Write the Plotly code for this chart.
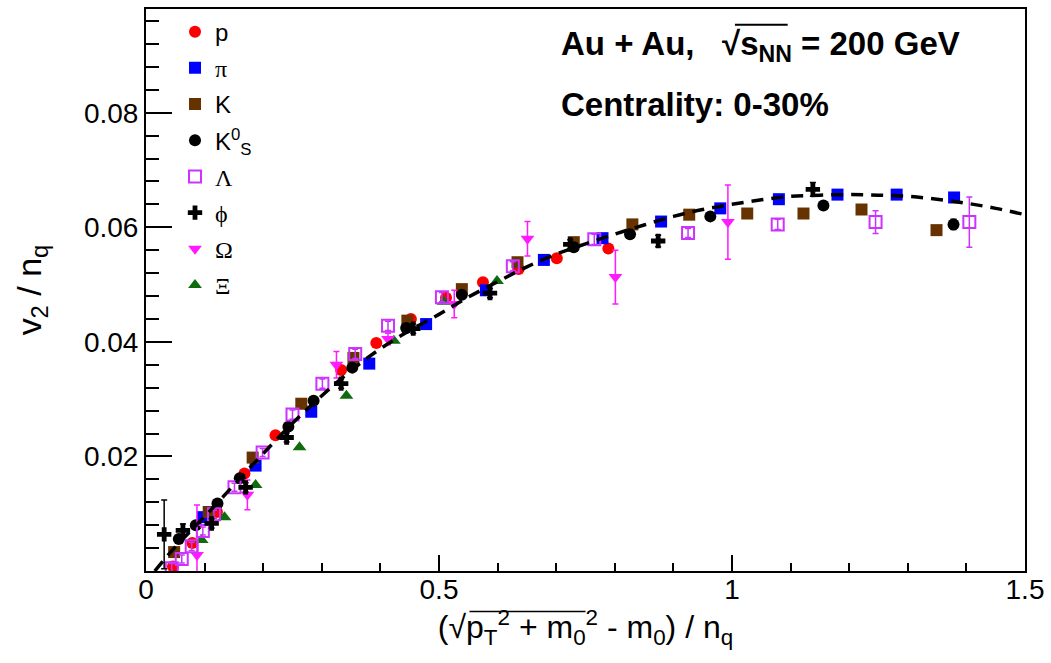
import plotly.graph_objects as go

# ---- proton ----
p_x = [0.046, 0.079, 0.121, 0.168, 0.221, 0.333, 0.393, 0.452, 0.512, 0.575, 0.636, 0.701, 0.789]
p_y = [0.0008, 0.0049, 0.0103, 0.0170, 0.0237, 0.0351, 0.0398, 0.0440, 0.0477, 0.0504, 0.0527, 0.0546, 0.0563]

# ---- pion ----
pi_x = [0.097, 0.187, 0.282, 0.381, 0.478, 0.580, 0.679, 0.779, 0.879, 0.980, 1.080, 1.180, 1.281, 1.379]
pi_y = [0.0094, 0.0184, 0.0278, 0.0362, 0.0431, 0.0490, 0.0543, 0.0581, 0.0610, 0.0633, 0.0649, 0.0657, 0.0657, 0.0652]

# ---- charged kaon ----
k_x = [0.048, 0.107, 0.182, 0.265, 0.354, 0.446, 0.539, 0.634, 0.730, 0.830, 0.927, 1.026, 1.122, 1.221, 1.349]
k_y = [0.0033, 0.0103, 0.0198, 0.0292, 0.0372, 0.0437, 0.0492, 0.0539, 0.0574, 0.0605, 0.0622, 0.0624, 0.0624, 0.0631, 0.0595]

# ---- K0s ----
k0_x = [0.056, 0.085, 0.122, 0.160, 0.243, 0.286, 0.352, 0.444, 0.539, 0.730, 0.826, 0.963, 1.156, 1.378]
k0_y = [0.0056, 0.0080, 0.0118, 0.0162, 0.0252, 0.0297, 0.0355, 0.0424, 0.0482, 0.0565, 0.0588, 0.0619, 0.0638, 0.0605]
k0_e = [0.0003, 0.0003, 0.0003, 0.0003, 0.0003, 0.0003, 0.0003, 0.0003, 0.0003, 0.0004, 0.0004, 0.0004, 0.0005, 0.0009]

# ---- Lambda ----
lam_x = [0.044, 0.061, 0.078, 0.097, 0.116, 0.151, 0.199, 0.250, 0.301, 0.357, 0.413, 0.505, 0.626, 0.765, 0.925, 1.078, 1.245, 1.405]
lam_y = [0.0005, 0.0021, 0.0043, 0.0070, 0.0099, 0.0146, 0.0207, 0.0273, 0.0327, 0.0379, 0.0428, 0.0478, 0.0532, 0.0579, 0.0590, 0.0605, 0.0609, 0.0609]
lam_e = [0.0008, 0.0007, 0.0007, 0.0007, 0.0007, 0.0007, 0.0007, 0.0008, 0.0008, 0.0008, 0.0008, 0.0008, 0.0008, 0.0009, 0.0008, 0.0009, 0.0020, 0.0044]

# ---- phi ----
phi_x = [0.031, 0.063, 0.112, 0.170, 0.240, 0.333, 0.456, 0.587, 0.724, 0.874, 1.138]
phi_y = [0.0064, 0.0071, 0.0083, 0.0146, 0.0233, 0.0327, 0.0423, 0.0485, 0.0570, 0.0576, 0.0666]
phi_e = [0.0060, 0.0011, 0.0008, 0.0008, 0.0008, 0.0008, 0.0008, 0.0008, 0.0008, 0.0010, 0.0012]

# ---- Omega ----
om_x = [0.087, 0.173, 0.325, 0.413, 0.526, 0.651, 0.801, 0.993]
om_y = [0.0028, 0.0133, 0.0360, 0.0405, 0.0466, 0.0580, 0.0513, 0.0609]
om_e = [0.0087, 0.0026, 0.0023, 0.0010, 0.0024, 0.0030, 0.0047, 0.0065]

# ---- Xi ----
xi_x = [0.095, 0.134, 0.187, 0.262, 0.342, 0.423, 0.508, 0.599]
xi_y = [0.0054, 0.0094, 0.0150, 0.0216, 0.0306, 0.0402, 0.0470, 0.0506]

# ---- NCQ scaling fit curve ----
fit_x = [0.015, 0.05, 0.10, 0.15, 0.20, 0.25, 0.30, 0.35, 0.40, 0.45, 0.50, 0.55, 0.60, 0.65, 0.70,
         0.75, 0.80, 0.85, 0.90, 0.95, 1.00, 1.05, 1.10, 1.15, 1.20, 1.25, 1.30, 1.35, 1.40, 1.45, 1.50]
fit_y = [0.0, 0.0042, 0.0095, 0.0150, 0.0205, 0.0258, 0.0306, 0.0350, 0.0388, 0.0420, 0.0448, 0.0478,
         0.0505, 0.0531, 0.0553, 0.0571, 0.0588, 0.0604, 0.0619, 0.0631, 0.0640, 0.0648, 0.0654, 0.0656,
         0.0657, 0.0656, 0.0654, 0.0649, 0.0642, 0.0633, 0.0622]

y_ticks = [0.0, 0.02, 0.04, 0.06, 0.08]
y_ticktext = ["", "0.02", "0.04", "0.06", "0.08"]

SANS = "Liberation Sans, Arial, sans-serif"
SERIF = "Liberation Serif, Times New Roman, serif"

def greek(s):
    return f"<span style='font-family:{SERIF}'>{s}</span>"

BROWN = "#663300"
GREEN = "#0e6b0e"
LAM_C = "#cc33ff"
OM_C = "#ff1aff"

fig = go.Figure()

def err(arr, color):
    return dict(type="data", array=arr, visible=True, color=color, thickness=1.5, width=3)

# draw order: filled markers first, open squares and crosses on top, fit line last
fig.add_trace(go.Scatter(x=p_x, y=p_y, mode="markers", name="p", legendrank=1, legendgroup="a",
                         marker=dict(symbol="circle", size=12, color="#ff0000")))
fig.add_trace(go.Scatter(x=pi_x, y=pi_y, mode="markers", name=greek("π"), legendrank=2, legendgroup="b",
                         marker=dict(symbol="square", size=12, color="#0000ff")))
fig.add_trace(go.Scatter(x=k_x, y=k_y, mode="markers", name="K", legendrank=3, legendgroup="c",
                         marker=dict(symbol="square", size=12, color=BROWN)))
fig.add_trace(go.Scatter(x=k0_x, y=k0_y, mode="markers", name="K<sup>0</sup><sub>S</sub>", legendrank=4,
                         legendgroup="d", error_y=err(k0_e, "black"),
                         marker=dict(symbol="circle", size=12, color="black")))
fig.add_trace(go.Scatter(x=xi_x, y=xi_y, mode="markers", name=greek("Ξ"), legendrank=8, legendgroup="h",
                         marker=dict(symbol="triangle-up", size=12, color=GREEN)))
fig.add_trace(go.Scatter(x=om_x, y=om_y, mode="markers", name=greek("Ω"), legendrank=7, legendgroup="g",
                         error_y=err(om_e, OM_C),
                         marker=dict(symbol="triangle-down", size=12, color=OM_C)))
fig.add_trace(go.Scatter(x=lam_x, y=lam_y, mode="markers", name=greek("Λ"), legendrank=5, legendgroup="e",
                         error_y=err(lam_e, LAM_C),
                         marker=dict(symbol="square-open", size=12, color=LAM_C, line=dict(width=2, color=LAM_C))))
fig.add_trace(go.Scatter(x=phi_x, y=phi_y, mode="markers", name=greek("ϕ"), legendrank=6, legendgroup="f",
                         error_y=err(phi_e, "black"),
                         marker=dict(symbol="cross", size=12, color="black")))
fig.add_trace(go.Scatter(x=fit_x, y=fit_y, mode="lines", showlegend=False, line_shape="spline",
                         line=dict(color="black", width=3.5, dash="12px,8px")))

# vinculum lines over the square-root arguments
def overline(x0, x1, y, w=1.6):
    return dict(type="line", xref="paper", yref="paper", x0=x0, x1=x1, y0=y, y1=y,
                line=dict(color="black", width=w))

fig.update_layout(
    width=1051, height=663,
    margin=dict(l=146, r=23, t=7, b=92),
    paper_bgcolor="white", plot_bgcolor="white",
    font=dict(family=SANS, color="black"),
    legend=dict(x=0.033, y=0.999, xanchor="left", yanchor="top", bgcolor="rgba(0,0,0,0)",
                font=dict(size=24, family=SANS), tracegroupgap=2, traceorder="grouped",
                itemsizing="trace"),
    xaxis=dict(range=[0, 1.5], showgrid=False, zeroline=False, showline=True, linecolor="black",
               linewidth=2, mirror=True, ticks="inside", ticklen=16, tickwidth=1.5, tickcolor="black",
               tick0=0, dtick=0.5, tickfont=dict(size=28, family=SANS), ticklabelstandoff=-8,
               minor=dict(ticks="inside", ticklen=8, tickwidth=1.5, tickcolor="black", dtick=0.1, showgrid=False),
               title=dict(text="(√p<sub>T</sub><sup>2</sup> + m<sub>0</sub><sup>2</sup> - m<sub>0</sub>) / n<sub>q</sub>",
                          font=dict(size=32, family=SANS), standoff=10)),
    yaxis=dict(range=[0, 0.0981], showgrid=False, zeroline=False, showline=True, linecolor="black",
               linewidth=2, mirror=True, ticks="inside", ticklen=26, tickwidth=1.5, tickcolor="black",
               tickmode="array", tickvals=y_ticks, ticktext=y_ticktext, tickfont=dict(size=28, family=SANS),
               minor=dict(ticks="inside", ticklen=13, tickwidth=1.5, tickcolor="black",
                          tickmode="linear", tick0=0, dtick=0.004, showgrid=False),
               title=dict(text="v<sub>2</sub> / n<sub>q</sub>", font=dict(size=34, family=SANS), standoff=32)),
    annotations=[
        dict(xref="paper", yref="paper", x=0.470, y=0.935, xanchor="left", yanchor="middle", showarrow=False,
             text="<b>Au + Au,\u00a0\u00a0 √s<sub>NN</sub> = 200 GeV</b>",
             font=dict(size=33, family=SANS, color="black")),
        dict(xref="paper", yref="paper", x=0.470, y=0.830, xanchor="left", yanchor="middle", showarrow=False,
             text="<b>Centrality: 0-30%</b>", font=dict(size=33, family=SANS, color="black")),
    ],
    shapes=[
        overline(0.670, 0.730, 0.972, 2),
        overline(0.368, 0.500, -0.072, 1.6),
    ],
)

fig.write_html("out.html")
